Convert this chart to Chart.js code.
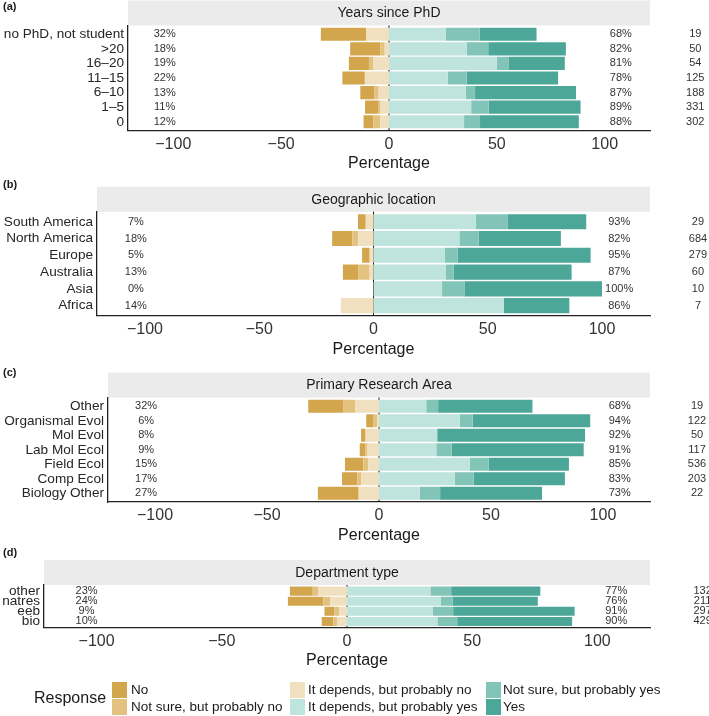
<!DOCTYPE html>
<html>
<head>
<meta charset="utf-8">
<script src="https://cdn.jsdelivr.net/npm/chart.js@4.4.1/dist/chart.umd.min.js"></script>
<style>
body { margin: 0; background: #fff; width: 709px; height: 716px; position: relative; overflow: hidden; }
canvas { position: absolute; left: 0; }
</style>
</head>
<body>
<canvas id="panelA"></canvas>
<canvas id="panelB"></canvas>
<canvas id="panelC"></canvas>
<canvas id="panelD"></canvas>
<script>
const responses = ['No', 'Not sure, but probably no', 'It depends, but probably no',
    'It depends, but probably yes', 'Not sure, but probably yes', 'Yes']
const responseColors = ['#D3A54C', '#E3C27F', '#F1E0BF', '#BFE3DD', '#82C4B8', '#4CA798']

// (a) Years since PhD
const yearsCats = ['no PhD, not student', '>20', '16–20', '11–15', '6–10', '1–5', '0']
const yearsNo = [21.1, 14, 9.3, 10.4, 6.4, 6.3, 4.6]
const yearsNotSureNo = [0, 2, 1.9, 0, 2.1, 0.9, 3.2]
const yearsDependsNo = [10.5, 2, 7.4, 11.2, 4.8, 3.9, 4.0]
const yearsDependsYes = [26.3, 36, 50, 27.2, 35.6, 38.1, 34.8]
const yearsNotSureYes = [15.8, 10, 5.6, 8.8, 4.3, 8.1, 7.4]
const yearsYes = [26.3, 36, 25.9, 42.4, 46.8, 42.6, 45.8]
const yearsLow = [32, 18, 19, 22, 13, 11, 12]
const yearsHigh = [68, 82, 81, 78, 87, 89, 88]
const yearsN = [19, 50, 54, 125, 188, 331, 302]

// (b) Geographic location
const geoCats = ['South America', 'North America', 'Europe', 'Australia', 'Asia', 'Africa']
const geoNo = [3.4, 8.8, 3.2, 6.7, 0, 0]
const geoNotSureNo = [0, 2.6, 0.4, 5.0, 0, 0]
const geoDependsNo = [3.4, 6.7, 1.4, 1.7, 0, 14.3]
const geoDependsYes = [44.8, 37.6, 31.1, 31.7, 30, 57.1]
const geoNotSureYes = [13.8, 8.4, 5.7, 3.3, 10, 0]
const geoYes = [34.5, 36.0, 58.2, 51.7, 60, 28.6]
const geoLow = [7, 18, 5, 13, 0, 14]
const geoHigh = [93, 82, 95, 87, 100, 86]
const geoN = [29, 684, 279, 60, 10, 7]

// (c) Primary Research Area
const areaCats = ['Other', 'Organismal Evol', 'Mol Evol', 'Lab Mol Ecol', 'Field Ecol', 'Comp Ecol', 'Biology Other']
const areaNo = [15.8, 3.3, 2.0, 2.6, 8.2, 6.9, 18.2]
const areaNotSureNo = [5.3, 1.6, 0, 0.9, 2.2, 1.6, 0]
const areaDependsNo = [10.5, 0.8, 6.0, 5.1, 4.8, 8.0, 9.1]
const areaDependsYes = [21.1, 36.1, 26.0, 25.6, 40.6, 33.9, 18.2]
const areaNotSureYes = [5.3, 5.7, 0, 6.8, 8.4, 8.4, 9.1]
const areaYes = [42.1, 52.5, 66.0, 59.0, 35.8, 40.7, 45.5]
const areaLow = [32, 6, 8, 9, 15, 17, 27]
const areaHigh = [68, 94, 92, 91, 85, 83, 73]
const areaN = [19, 122, 50, 117, 536, 203, 22]

// (d) Department type
const deptCats = ['other', 'natres', 'eeb', 'bio']
const deptNo = [9.1, 14.2, 4.0, 4.7]
const deptNotSureNo = [2.3, 2.8, 2.0, 1.4]
const deptDependsNo = [11.4, 6.6, 3.0, 4.0]
const deptDependsYes = [33.3, 37.4, 34.3, 36.1]
const deptNotSureYes = [8.3, 4.7, 8.1, 7.9]
const deptYes = [35.6, 34.1, 48.5, 45.9]
const deptLow = [23, 24, 9, 10]
const deptHigh = [77, 76, 91, 90]
const deptN = [132, 211, 297, 429]

const xTicks = [-100, -50, 0, 50, 100]
const sans = "'Liberation Sans', Arial, sans-serif"
const narrow = "'Liberation Sans Narrow', 'Liberation Sans', Arial, sans-serif"
const PLOT_RIGHT = 650
const XAXIS_H = 45

function minus(v) {
    return v < 0 ? '\u2212' + Math.abs(v) : String(v)
}

// strip, zero line, tag and the % / n text
const panelDecor = {
    id: 'panelDecor',
    beforeDraw(chart) {
        const p = chart.options.plugins.panelDecor
        const {ctx, chartArea} = chart
        ctx.save()
        ctx.fillStyle = '#EBEBEB'
        ctx.fillRect(chartArea.left, chartArea.top - 25, chartArea.right - chartArea.left, 25)
        ctx.fillStyle = '#1a1a1a'
        ctx.font = '14px ' + sans
        ctx.textAlign = 'center'
        ctx.textBaseline = 'middle'
        ctx.fillText(p.title, (chartArea.left + chartArea.right) / 2, chartArea.top - 12)
        ctx.font = 'bold 11px ' + sans
        ctx.textAlign = 'left'
        ctx.fillText(p.tag, 3, p.tagY)
        ctx.restore()
    },
    beforeDatasetsDraw(chart) {
        const {ctx, chartArea, scales} = chart
        const x0 = scales.x.getPixelForValue(0)
        ctx.save()
        ctx.strokeStyle = '#111'
        ctx.lineWidth = 1
        ctx.beginPath()
        ctx.moveTo(x0, chartArea.top)
        ctx.lineTo(x0, chartArea.bottom)
        ctx.stroke()
        ctx.restore()
    },
    afterDatasetsDraw(chart) {
        const p = chart.options.plugins.panelDecor
        const {ctx, scales} = chart
        ctx.save()
        ctx.fillStyle = '#333'
        ctx.font = '11px ' + narrow
        ctx.textAlign = 'center'
        ctx.textBaseline = 'middle'
        p.low.forEach((v, i) => {
            const y = scales.y.getPixelForValue(i)
            ctx.fillText(v + '%', scales.x.getPixelForValue(-104), y)
            ctx.fillText(p.high[i] + '%', scales.x.getPixelForValue(107.5), y)
            ctx.fillText(String(p.n[i]), scales.x.getPixelForValue(142), y)
        })
        ctx.restore()
    },
    afterDraw(chart) {
        const p = chart.options.plugins.panelDecor
        if (!p.legend) return
        const ctx = chart.ctx
        const lg = p.legend
        ctx.save()
        ctx.fillStyle = '#1a1a1a'
        ctx.textBaseline = 'middle'
        ctx.font = '16px ' + sans
        ctx.fillText('Response', 34, lg.y + 17)
        ctx.font = '13.5px ' + sans
        responses.forEach((r, k) => {
            const col = Math.floor(k / 2)
            const row = k % 2
            const kx = lg.keyX[col]
            const ky = lg.y + row * 17
            ctx.fillStyle = responseColors[k]
            ctx.fillRect(kx, ky, 15, 16)
            ctx.fillStyle = '#1a1a1a'
            ctx.fillText(r, lg.textX[col], ky + 8.5)
        })
        ctx.restore()
    }
}

function makePanel(id, cfg) {
    const canvas = document.getElementById(id)
    canvas.width = 709
    canvas.height = cfg.height
    canvas.style.top = cfg.top + 'px'
    canvas.style.width = '709px'
    canvas.style.height = cfg.height + 'px'
    const n = cfg.cats.length
    // stacking order outward from zero
    const order = [2, 1, 0, 3, 4, 5]
    const datasets = order.map(k => ({
        label: responses[k],
        backgroundColor: responseColors[k],
        borderWidth: 0,
        data: cfg.series[k].map((v, i) => ({x: k < 3 ? -v : v, y: i}))
    }))
    return new Chart(canvas, {
        type: 'bar',
        data: {datasets: datasets},
        options: {
            indexAxis: 'y',
            responsive: false,
            animation: false,
            devicePixelRatio: 1,
            datasets: {bar: {barPercentage: 0.9, categoryPercentage: 1}},
            layout: {padding: {top: cfg.plotTop - cfg.top, right: 709 - PLOT_RIGHT, left: 0,
                bottom: cfg.height - (cfg.axisY - cfg.top) - XAXIS_H}},
            plugins: {
                legend: {display: false},
                tooltip: {enabled: false},
                panelDecor: {
                    title: cfg.title, tag: cfg.tag, tagY: cfg.tagY - cfg.top,
                    low: cfg.low, high: cfg.high, n: cfg.n,
                    legend: cfg.legend ? {y: cfg.legend.y - cfg.top, keyX: [112, 290, 486], textX: [131, 308, 503]} : null
                }
            },
            scales: {
                x: {
                    type: 'linear', min: -121, max: 121, stacked: true,
                    afterBuildTicks: s => { s.ticks = xTicks.map(v => ({value: v})) },
                    afterFit: s => { s.height = XAXIS_H },
                    grid: {display: false, drawTicks: false},
                    border: {display: true, color: '#222', width: 1.3},
                    ticks: {callback: v => minus(v), color: '#333', padding: 4, maxRotation: 0,
                        font: {size: 16, family: sans}},
                    title: {display: true, text: 'Percentage', color: '#1a1a1a',
                        font: {size: 16, family: sans}, padding: {top: 0, bottom: 2}}
                },
                y: {
                    type: 'linear', min: -0.6, max: n - 0.4, reverse: true, stacked: true, offset: false,
                    afterBuildTicks: s => { s.ticks = cfg.cats.map((c, i) => ({value: i})) },
                    afterFit: s => { s.width = cfg.left },
                    grid: {display: false, drawTicks: false, offset: false},
                    border: {display: true, color: '#222', width: 1.3},
                    ticks: {callback: v => cfg.cats[v], autoSkip: false, color: '#262626', padding: 4,
                        font: {size: 13.6, family: sans}}
                }
            }
        },
        plugins: [panelDecor]
    })
}

makePanel('panelA', {
    top: 0, height: 176, plotTop: 25.5, axisY: 130.5, left: 128, tag: '(a)', tagY: 7,
    title: 'Years since PhD', cats: yearsCats,
    series: [yearsNo, yearsNotSureNo, yearsDependsNo, yearsDependsYes, yearsNotSureYes, yearsYes],
    low: yearsLow, high: yearsHigh, n: yearsN
})
makePanel('panelB', {
    top: 180, height: 181, plotTop: 211.7, axisY: 315.7, left: 97, tag: '(b)', tagY: 185,
    title: 'Geographic location', cats: geoCats,
    series: [geoNo, geoNotSureNo, geoDependsNo, geoDependsYes, geoNotSureYes, geoYes],
    low: geoLow, high: geoHigh, n: geoN
})
makePanel('panelC', {
    top: 366, height: 182, plotTop: 397.6, axisY: 502, left: 108, tag: '(c)', tagY: 373,
    title: 'Primary Research Area', cats: areaCats,
    series: [areaNo, areaNotSureNo, areaDependsNo, areaDependsYes, areaNotSureYes, areaYes],
    low: areaLow, high: areaHigh, n: areaN
})
makePanel('panelD', {
    top: 548, height: 168, plotTop: 585, axisY: 627.5, left: 44, tag: '(d)', tagY: 553,
    title: 'Department type', cats: deptCats,
    series: [deptNo, deptNotSureNo, deptDependsNo, deptDependsYes, deptNotSureYes, deptYes],
    low: deptLow, high: deptHigh, n: deptN,
    legend: {y: 682}
})
</script>
</body>
</html>
